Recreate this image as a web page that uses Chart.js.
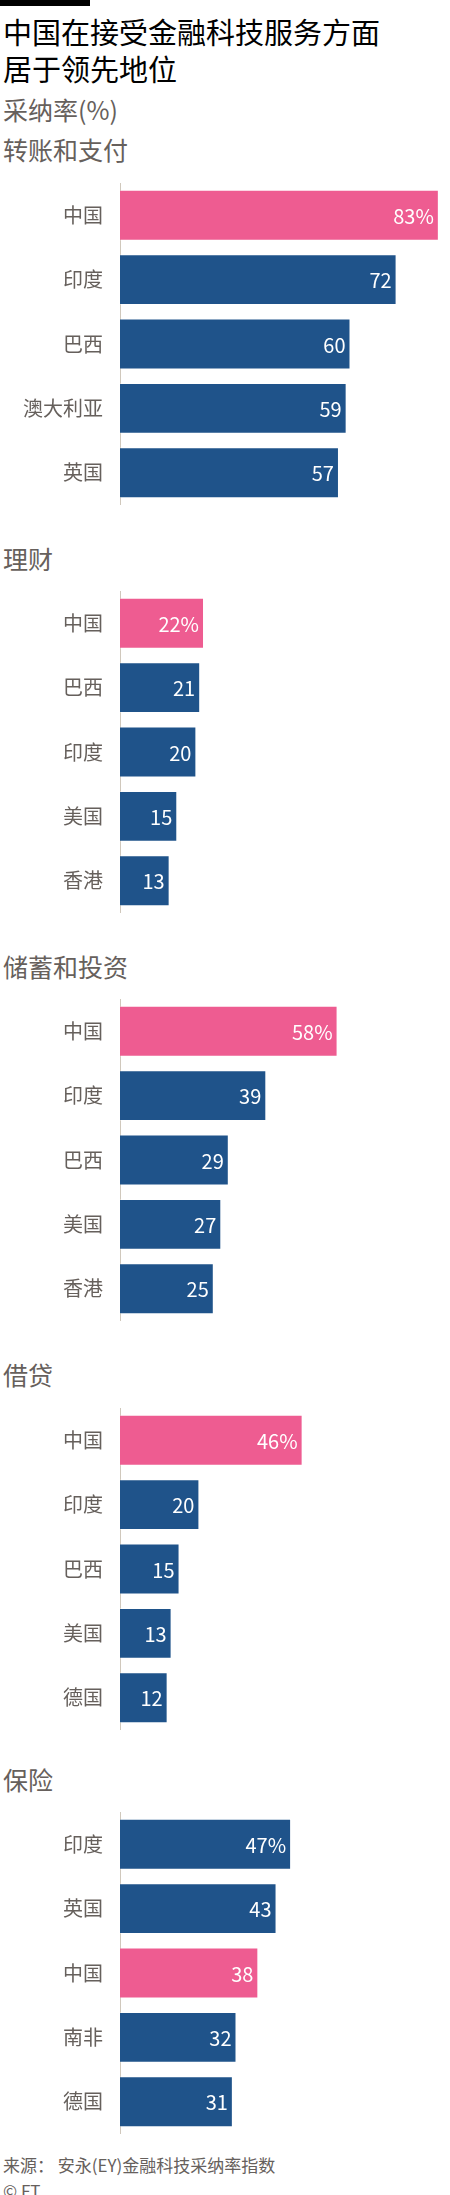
<!DOCTYPE html>
<html>
<head>
<meta charset="utf-8">
<script src="https://cdn.jsdelivr.net/npm/chart.js@4"></script>
<style>
  html, body { margin: 0; padding: 0; background: #fff; }
  body { width: 450px; height: 2195px; position: relative; overflow: hidden;
         font-family: "Noto Sans CJK SC", "Noto Sans", sans-serif; }
  .bar { position: absolute; left: 0; top: 0; width: 90px; height: 6px; background: #000; }
  .title { position: absolute; left: 3px; top: 13px; font-size: 29px; line-height: 37px; color: #000; }
  .sub { position: absolute; left: 3px; font-size: 25px; line-height: 25px; color: #66605c; }
  .box { position: absolute; left: 0; width: 450px; height: 322px; }
  .src { position: absolute; left: 3px; font-size: 17px; line-height: 17px; color: #66605c; }
</style>
</head>
<body>
<div class="bar"></div>
<div class="title">中国在接受金融科技服务方面<br>居于领先地位</div>
<div class="sub" style="top:97px">采纳率(%)</div>

<div class="sub" style="top:137px">转账和支付</div>
<div class="box" style="top:183px"><canvas id="c1"></canvas></div>

<div class="sub" style="top:546px">理财</div>
<div class="box" style="top:591px"><canvas id="c2"></canvas></div>

<div class="sub" style="top:954px">储蓄和投资</div>
<div class="box" style="top:999px"><canvas id="c3"></canvas></div>

<div class="sub" style="top:1362px">借贷</div>
<div class="box" style="top:1408px"><canvas id="c4"></canvas></div>

<div class="sub" style="top:1767px">保险</div>
<div class="box" style="top:1812px"><canvas id="c5"></canvas></div>

<div class="src" style="top:2156px">来源： 安永(EY)金融科技采纳率指数</div>
<div class="src" style="top:2182px">© FT</div>

<script>
// data
var payCountries = ['中国','印度','巴西','澳大利亚','英国'];
var payValues = [83,72,60,59,57];
var wealthCountries = ['中国','巴西','印度','美国','香港'];
var wealthValues = [22,21,20,15,13];
var saveCountries = ['中国','印度','巴西','美国','香港'];
var saveValues = [58,39,29,27,25];
var loanCountries = ['中国','印度','巴西','美国','德国'];
var loanValues = [46,20,15,13,12];
var insureCountries = ['印度','英国','中国','南非','德国'];
var insureValues = [47,43,38,32,31];

// each panel in the original has its own x range
var pink = '#ee5c91';
var blue = '#1f538a';

// white value labels inside the bar ends, first one gets a %
var valueLabels = {
    id: 'valueLabels',
    afterDatasetsDraw: function (chart){
        var ctx = chart.ctx;
        var meta = chart.getDatasetMeta(0);
        var vals = chart.data.datasets[0].data;
        ctx.save();
        ctx.fillStyle = '#fff';
        ctx.font = '20px "Noto Sans CJK SC", "Noto Sans", sans-serif';
        ctx.textAlign = 'right';
        ctx.textBaseline = 'middle';
        meta.data.forEach(function (bar, i){
            var txt = vals[i] + (i == 0 ? '%' : '');
            ctx.fillText(txt, bar.x - 5, bar.y + 1);
        });
        ctx.restore();
    }
};

function makeChart(id, labels, values, xMax){
    var colors = labels.map(function (l){ return l == '中国' ? pink : blue; });
    return new Chart(document.getElementById(id), {
        type: 'bar',
        data: {
            labels: labels,
            datasets: [{
                data: values,
                backgroundColor: colors,
                borderColor: 'rgba(255,255,255,0.3)',
                borderWidth: 1,
                borderSkipped: 'start',
                categoryPercentage: 1,
                barPercentage: 0.79
            }]
        },
        options: {
            indexAxis: 'y',
            responsive: true,
            maintainAspectRatio: false,
            animation: false,
            layout: { padding: { left: 0, right: 10, top: 0, bottom: 0 } },
            plugins: { legend: { display: false }, tooltip: { enabled: false } },
            scales: {
                x: { display: false, min: 0, max: xMax },
                y: {
                    grid: { display: true, drawOnChartArea: false, drawTicks: false },
                    border: { display: true, color: '#d0c8bc', width: 1 },
                    ticks: {
                        color: '#66605c',
                        padding: 17,
                        font: { size: 20, family: '"Noto Sans CJK SC", "Noto Sans", sans-serif' }
                    },
                    afterFit: function (scale){
                        scale.width = 120;
                        scale.paddingTop = 0;
                        scale.paddingBottom = 0;
                    }
                }
            }
        },
        plugins: [valueLabels]
    });
}

makeChart('c1', payCountries, payValues, 83.3);
makeChart('c2', wealthCountries, wealthValues, 83.8);
makeChart('c3', saveCountries, saveValues, 85.3);
makeChart('c4', loanCountries, loanValues, 80.6);
makeChart('c5', insureCountries, insureValues, 87.9);
</script>
</body>
</html>
